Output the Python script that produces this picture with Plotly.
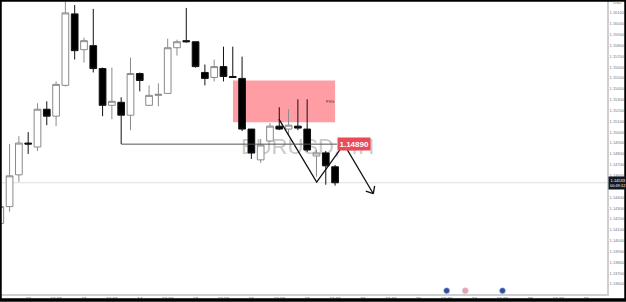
import numpy as np
import plotly.graph_objects as go

# ---------------- data ----------------
candle_idx = list(range(-3, 34))
opens = [1.14159, 1.14314, 1.14607, 1.14900, 1.14864, 1.15212, 1.15148, 1.15432,
         1.16091, 1.15761, 1.15798, 1.15587, 1.15248, 1.15276, 1.15157, 1.15541,
         1.15248, 1.15340, 1.15358, 1.15779, 1.15844, 1.15834, 1.15551, 1.15505,
         1.15605, 1.15514, 1.15496, 1.15029, 1.14745, 1.14919, 1.15056, 1.15029,
         1.15056, 1.15029, 1.14781, 1.14809, 1.14681]
highs = [1.14342, 1.14891, 1.14964, 1.15001, 1.15267, 1.15285, 1.15468, 1.16203,
         1.16173, 1.15871, 1.16137, 1.15596, 1.15596, 1.15322, 1.15688, 1.15550,
         1.15432, 1.15450, 1.15862, 1.15853, 1.16146, 1.15834, 1.15624, 1.15670,
         1.15789, 1.15789, 1.15697, 1.15029, 1.14937, 1.15084, 1.15230, 1.15212,
         1.15303, 1.15303, 1.14836, 1.14827, 1.14699]
lows = [1.14131, 1.14268, 1.14543, 1.14800, 1.14827, 1.15065, 1.15056, 1.15422,
        1.15670, 1.15642, 1.15551, 1.15148, 1.15120, 1.14891, 1.15019, 1.15377,
        1.15248, 1.15239, 1.15358, 1.15706, 1.15825, 1.15596, 1.15432, 1.15468,
        1.15468, 1.15505, 1.15010, 1.14754, 1.14717, 1.14910, 1.15019, 1.14974,
        1.15019, 1.14818, 1.14589, 1.14516, 1.14507]
closes = [1.14314, 1.14598, 1.14900, 1.14891, 1.15212, 1.15148, 1.15441, 1.16100,
          1.15752, 1.15844, 1.15587, 1.15248, 1.15285, 1.15157, 1.15541, 1.15477,
          1.15340, 1.15349, 1.15779, 1.15834, 1.15834, 1.15605, 1.15496, 1.15605,
          1.15514, 1.15505, 1.15029, 1.14809, 1.14882, 1.15056, 1.15029, 1.15065,
          1.15038, 1.14836, 1.14809, 1.14690, 1.14534]

# x-axis labels (4H candles, 6 per day)
day_labels = ["12", "13", "14", "17", "18", "19", "20", "21", "24", "25", "26"]
half_label = "12:00"

# y-axis labels
y_ticks = [round(1.136 + 0.001 * k, 3) for k in range(26)]

# annotations / levels
fvg_x = [22.02, 33.0]
fvg_y = [1.15093, 1.15477]
level_price = 1.14890
level_x = [10, 33.2]
last_price = 1.14534
last_price_text = "1.14533"
countdown_text = "00:49:12"
zig_x = [26.97, 31.02, 33.96, 37.11]
zig_y = [1.15120, 1.14540, 1.14890, 1.14433]
event_idx = [45, 47, 51]
event_colors = ["#2d4f9e", "#e8a3ab", "#2d4f9e"]
event_price = 1.13539

# tick labels hidden behind the last-price box (as in the reference)
y_ticktext = ["" if abs(v - last_price) < 0.0006 else f"{v:.5f}" for v in y_ticks]

# ---------------- layout geometry ----------------
W, H = 626, 302
x_range = [-3.03, 62.24]
y_range = [1.13508, 1.16219]
x_dom = [0, 607 / W]
y_dom = [6 / H, 1]
sx = (x_dom[1] - x_dom[0]) * W / (x_range[1] - x_range[0])
sy = (y_dom[1] - y_dom[0]) * H / (y_range[1] - y_range[0])

fig = go.Figure()

fig.add_trace(go.Candlestick(
    x=candle_idx, open=opens, high=highs, low=lows, close=closes,
    increasing=dict(fillcolor="#ffffff", line=dict(color="#8a8a8a", width=1)),
    decreasing=dict(fillcolor="#000000", line=dict(color="#111111", width=1)),
    whiskerwidth=0, hoverinfo="skip",
))

# zigzag path
fig.add_trace(go.Scatter(x=zig_x, y=zig_y, mode="lines",
                         line=dict(color="#111111", width=1.3), hoverinfo="skip"))

# arrow head wings computed from last segment direction in pixel space
d = np.array([(zig_x[-1] - zig_x[-2]) * sx, -(zig_y[-1] - zig_y[-2]) * sy])
back = -d / np.linalg.norm(d)
for ang in (np.deg2rad(40), np.deg2rad(-40)):
    rot = np.array([[np.cos(ang), -np.sin(ang)], [np.sin(ang), np.cos(ang)]])
    w = rot @ back * 8
    fig.add_trace(go.Scatter(
        x=[zig_x[-1], zig_x[-1] + w[0] / sx],
        y=[zig_y[-1], zig_y[-1] - w[1] / sy],
        mode="lines", line=dict(color="#111111", width=1.3), hoverinfo="skip"))

# economic event icons
fig.add_trace(go.Scatter(
    x=event_idx, y=[event_price] * len(event_idx), mode="markers",
    marker=dict(size=6, color=event_colors, line=dict(color="#c8cde0", width=0.6)),
    cliponaxis=False, hoverinfo="skip"))

shapes = [
    dict(type="rect", xref="x", yref="y", x0=fvg_x[0], x1=fvg_x[1], y0=fvg_y[0], y1=fvg_y[1],
         fillcolor="rgba(255,92,104,0.6)", line=dict(width=0), layer="below"),
    dict(type="line", xref="x domain", yref="y", x0=0, x1=1, y0=last_price, y1=last_price,
         line=dict(color="#dedede", width=1), layer="below"),
    dict(type="line", xref="x", yref="y", x0=level_x[0], x1=level_x[1], y0=level_price, y1=level_price,
         line=dict(color="#555555", width=1)),
    dict(type="rect", xref="x", yref="y", x0=22.56, x1=37.5, y0=1.1480, y1=1.1497,
         fillcolor="rgba(0,0,0,0)", line=dict(width=0), layer="below",
         label=dict(text="EURUSD, 4H", textposition="middle left", padding=0,
                    font=dict(family="Liberation Sans, Arial", size=22, color="rgba(120,123,134,0.42)"))),
    dict(type="rect", xref="paper", yref="paper", x0=0, x1=1, y0=0, y1=1,
         line=dict(color="#000000", width=3.5), fillcolor="rgba(0,0,0,0)"),
]

annotations = [
    dict(x=level_x[1], y=level_price, xref="x", yref="y", xanchor="left", yanchor="middle",
         text=f"<b>{level_price:.5f}</b>", showarrow=False, bgcolor="#ea4a58",
         font=dict(family="Liberation Sans, Arial", size=8, color="#ffffff"), borderpad=1.5),
    dict(x=32.45, y=1.15285, xref="x", yref="y", text="FVG", showarrow=False,
         font=dict(family="Liberation Sans, Arial", size=4, color="#333333")),
    dict(x=608 / W, y=last_price, xref="paper", yref="y", xanchor="left", yanchor="middle",
         text=f"{last_price_text}<br>{countdown_text}", showarrow=False, bgcolor="#131722",
         font=dict(family="Liberation Sans, Arial", size=4, color="#ffffff"), borderpad=1),
    dict(x=611 / W, y=(H - 3) / H, xref="paper", yref="paper", xanchor="left", yanchor="middle",
         text="USD", showarrow=False,
         font=dict(family="Liberation Sans, Arial", size=4, color="#777777")),
]

x_tickvals = [-3]
x_ticktext = [half_label]
for k, lab in enumerate(day_labels):
    x_tickvals.append(6 * k)
    x_ticktext.append(lab)
    if k < len(day_labels) - 1:
        x_tickvals.append(6 * k + 3)
        x_ticktext.append(half_label)

fig.update_layout(
    width=W, height=H, margin=dict(l=0, r=0, t=0, b=0),
    paper_bgcolor="#ffffff", plot_bgcolor="#ffffff", showlegend=False,
    boxgap=0.28, boxgroupgap=0,
    shapes=shapes, annotations=annotations,
    xaxis=dict(domain=x_dom, range=x_range, rangeslider=dict(visible=False),
               tickvals=x_tickvals, ticktext=x_ticktext, showgrid=False, zeroline=False,
               showline=True, linecolor="#cfcfcf", linewidth=1.5, ticks="",
               tickfont=dict(family="Liberation Sans, Arial", size=4.5, color="#777777")),
    yaxis=dict(domain=y_dom, range=y_range, side="right", tickvals=y_ticks, ticktext=y_ticktext,
               showgrid=False, zeroline=False, showline=True, linecolor="#cfcfcf", linewidth=1.5,
               ticks="", tickfont=dict(family="Liberation Sans, Arial", size=4, color="#777777")),
)

fig.write_html("out.html")
